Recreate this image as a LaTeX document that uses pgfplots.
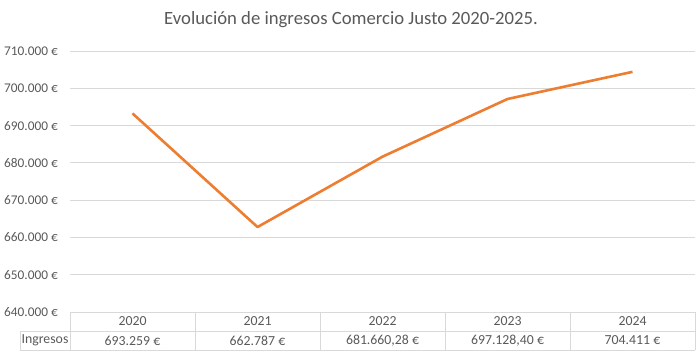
\documentclass[border=0pt]{standalone}
\usepackage{pgfplots}
\pgfplotsset{compat=1.18}
\usepackage{fontspec}
\setmainfont{Carlito}
\definecolor{txt}{HTML}{595959}
\definecolor{grd}{HTML}{D9D9D9}
\definecolor{ora}{HTML}{ED7D31}
\begin{document}
\begin{tikzpicture}[x=1pt,y=1pt]
\path[use as bounding box] (0,0) rectangle (700,359);
\node[text=txt,font=\fontsize{18.7}{22}\selectfont] at (351,339) {Evolución de ingresos Comercio Justo 2020-2025.};
\begin{axis}[
  at={(70pt,47pt)}, anchor=south west,
  width=625pt, height=261pt, scale only axis,
  xmin=-0.5, xmax=4.5, ymin=640000, ymax=710000,
  axis line style={draw=none},
  major tick length=0pt,
  xtick=\empty,
  scaled y ticks=false,
  ytick={640000,650000,660000,670000,680000,690000,700000,710000},
  yticklabels={640.000 €,650.000 €,660.000 €,670.000 €,680.000 €,690.000 €,700.000 €,710.000 €},
  yticklabel style={text=txt,font=\fontsize{13.3}{16}\selectfont,inner sep=0pt,anchor=east,xshift=-12pt},
  /pgf/number format/assume math mode=true,
  ymajorgrids, grid style={grd,line width=0.8pt},
  clip=false,
]
\addplot[ora, line width=2.6pt, line join=round] coordinates {
(0,693259) (1,662787) (2,681660.28) (3,697128.40) (4,704411)};
\end{axis}
% data table
\begin{scope}[grd, line width=0.8pt]
\draw (70,47) -- (695,47);
\draw (20,28) -- (695,28);
\draw (20,9) -- (695,9);
\draw (20,28) -- (20,9);
\foreach \x in {70,195,320,445,570,695} \draw (\x,47) -- (\x,9);
\end{scope}
\begin{scope}[every node/.style={text=txt,font=\fontsize{13.8}{16}\selectfont}]
\node at (45,18.5) {Ingresos};
\node at (132.5,37.5) {2020};
\node at (257.5,37.5) {2021};
\node at (382.5,37.5) {2022};
\node at (507.5,37.5) {2023};
\node at (632.5,37.5) {2024};
\node at (132.5,18.5) {693.259 €};
\node at (257.5,18.5) {662.787 €};
\node at (382.5,18.5) {681.660,28 €};
\node at (507.5,18.5) {697.128,40 €};
\node at (632.5,18.5) {704.411 €};
\end{scope}
\end{tikzpicture}
\end{document}
